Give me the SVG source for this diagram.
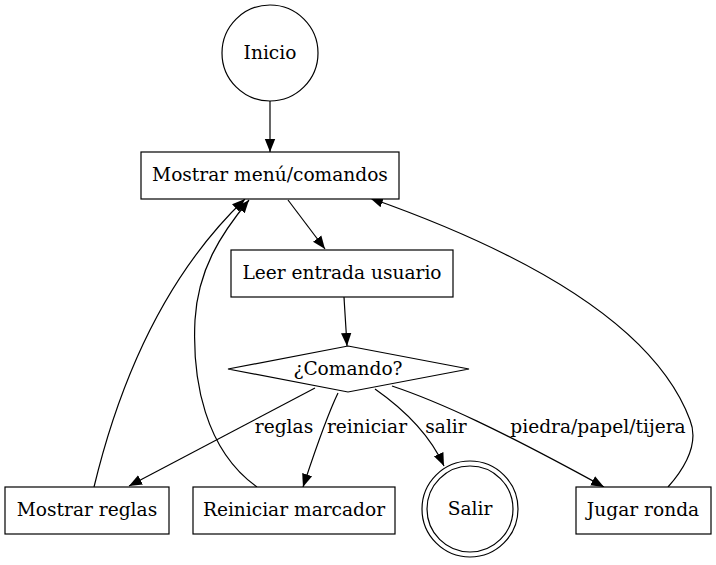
<svg xmlns="http://www.w3.org/2000/svg" width="716" height="565" viewBox="0 0 716 565">
<style>
.n{fill:#fff;stroke:#000;stroke-width:1.2}
.t{font-family:"DejaVu Serif",serif;font-size:18.6px;text-anchor:middle;fill:#000}
.e{fill:none;stroke:#000;stroke-width:1.2}
</style>
<defs>
<marker id="a" markerUnits="userSpaceOnUse" markerWidth="16" markerHeight="14" refX="13" refY="7" orient="auto">
<path d="M0,1.8 L13,7 L0,12.2 Z" fill="#000"/>
</marker>
</defs>
<rect width="716" height="565" fill="#fff"/>
<g id="connectors">
<path class="e" marker-end="url(#a)" d="M270,101 L270,152"/>
<path class="e" marker-end="url(#a)" d="M288,200 L325,249"/>
<path class="e" marker-end="url(#a)" d="M344,297 L347,346"/>
<path class="e" marker-end="url(#a)" d="M315,388 L129,486"/>
<path class="e" marker-end="url(#a)" d="M338,393 C325,420 312,460 303,487"/>
<path class="e" marker-end="url(#a)" d="M375,389 C405,410 430,435 444,466"/>
<path class="e" marker-end="url(#a)" d="M392,386 C440,402 500,430 604,487"/>
<path class="e" marker-end="url(#a)" d="M94,487 C115,400 155,285 245,199"/>
<path class="e" marker-end="url(#a)" d="M257,487 C205,450 192,380 195,320 C198,270 220,235 249,200"/>
<path class="e" marker-end="url(#a)" d="M668,487 C690,462 698,440 690,420 C660,340 560,265 370,198"/>
<text class="t" x="284" y="433">reglas</text>
<text class="t" x="367" y="433">reiniciar</text>
<text class="t" x="446" y="433">salir</text>
<text class="t" x="598" y="433">piedra/papel/tijera</text>
</g>
<g id="inicio">
<circle class="n" cx="270" cy="53" r="48"/>
<text class="t" x="270" y="59">Inicio</text>
</g>
<g id="menu">
<rect class="n" x="141" y="152" width="258" height="47"/>
<text class="t" x="270" y="181">Mostrar menú/comandos</text>
</g>
<g id="leer">
<rect class="n" x="231" y="250" width="222" height="47"/>
<text class="t" x="342" y="279">Leer entrada usuario</text>
</g>
<g id="comando">
<polygon class="n" points="348,346 469,369 348,392 228,369"/>
<text class="t" x="348" y="375">¿Comando?</text>
</g>
<g id="reglas">
<rect class="n" x="5" y="487" width="164" height="47"/>
<text class="t" x="87" y="516">Mostrar reglas</text>
</g>
<g id="reiniciar">
<rect class="n" x="193" y="487" width="202" height="47"/>
<text class="t" x="294" y="516">Reiniciar marcador</text>
</g>
<g id="salir">
<circle class="n" cx="470" cy="509" r="48"/>
<circle class="n" cx="470" cy="509" r="43"/>
<text class="t" x="470" y="515">Salir</text>
</g>
<g id="jugar">
<rect class="n" x="576" y="487" width="135" height="47"/>
<text class="t" x="643" y="516">Jugar ronda</text>
</g>
</svg>
